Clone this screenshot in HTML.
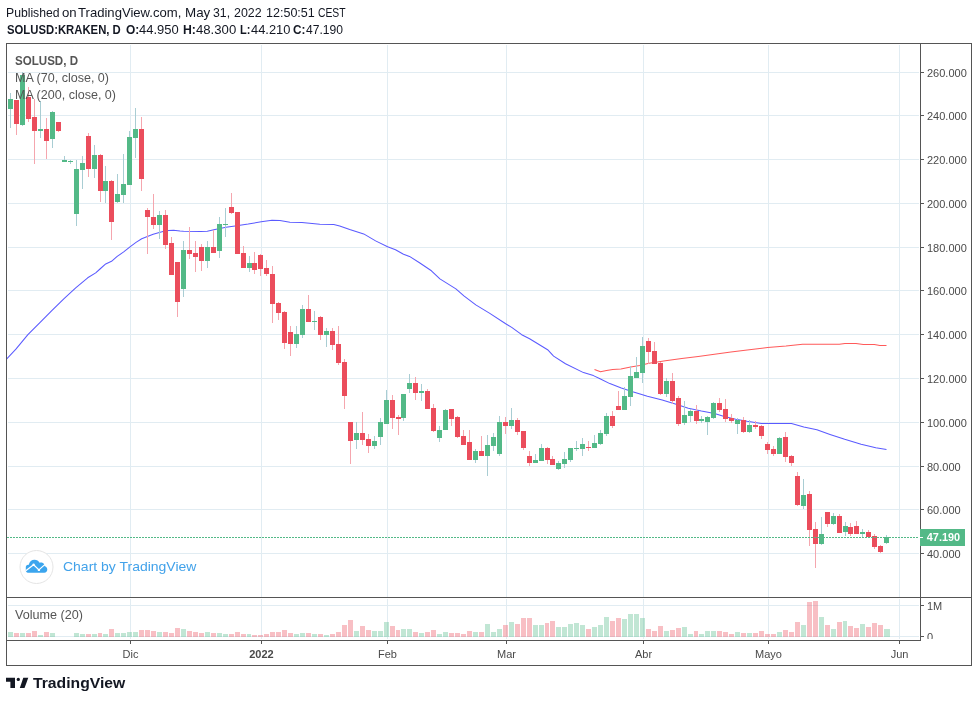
<!DOCTYPE html>
<html><head><meta charset="utf-8"><title>SOLUSD chart</title><style>
html,body{margin:0;padding:0;background:#fff}
body{width:978px;height:702px;position:relative;overflow:hidden;font-family:"Liberation Sans", sans-serif}
#wrap{position:absolute;left:0;top:0;width:978px;height:702px;will-change:transform}
.t{position:absolute;white-space:nowrap;display:inline-block;transform-origin:0 0;font-family:"Liberation Sans", sans-serif}
.ax{font-family:"Liberation Sans", sans-serif;font-size:11px;fill:#4a4a4a}
</style></head><body>
<div id="wrap">
<svg width="978" height="702" viewBox="0 0 978 702" style="position:absolute;left:0;top:0">
<g shape-rendering="crispEdges">
<rect x="8" y="72" width="911" height="1" fill="#e1ecf2"/>
<rect x="8" y="115" width="911" height="1" fill="#e1ecf2"/>
<rect x="8" y="159" width="911" height="1" fill="#e1ecf2"/>
<rect x="8" y="203" width="911" height="1" fill="#e1ecf2"/>
<rect x="8" y="247" width="911" height="1" fill="#e1ecf2"/>
<rect x="8" y="290" width="911" height="1" fill="#e1ecf2"/>
<rect x="8" y="334" width="911" height="1" fill="#e1ecf2"/>
<rect x="8" y="378" width="911" height="1" fill="#e1ecf2"/>
<rect x="8" y="422" width="911" height="1" fill="#e1ecf2"/>
<rect x="8" y="466" width="911" height="1" fill="#e1ecf2"/>
<rect x="8" y="509" width="911" height="1" fill="#e1ecf2"/>
<rect x="8" y="553" width="911" height="1" fill="#e1ecf2"/>
<rect x="130" y="45" width="1" height="552" fill="#e1ecf2"/>
<rect x="261" y="45" width="1" height="552" fill="#e1ecf2"/>
<rect x="387" y="45" width="1" height="552" fill="#e1ecf2"/>
<rect x="506" y="45" width="1" height="552" fill="#e1ecf2"/>
<rect x="643" y="45" width="1" height="552" fill="#e1ecf2"/>
<rect x="768" y="45" width="1" height="552" fill="#e1ecf2"/>
<rect x="899" y="45" width="1" height="552" fill="#e1ecf2"/>
<rect x="8" y="605" width="911" height="1" fill="#e1ecf2"/>
<rect x="8" y="636" width="911" height="1" fill="#e1ecf2"/>
<rect x="130" y="599" width="1" height="40" fill="#e1ecf2"/>
<rect x="261" y="599" width="1" height="40" fill="#e1ecf2"/>
<rect x="387" y="599" width="1" height="40" fill="#e1ecf2"/>
<rect x="506" y="599" width="1" height="40" fill="#e1ecf2"/>
<rect x="643" y="599" width="1" height="40" fill="#e1ecf2"/>
<rect x="768" y="599" width="1" height="40" fill="#e1ecf2"/>
<rect x="899" y="599" width="1" height="40" fill="#e1ecf2"/>
</g>
<path d="M6.5 359.2 L7.0 358.6 L15.9 349.2 L27.9 334.7 L39.9 322.7 L51.8 310.7 L63.8 298.8 L75.7 287.8 L87.7 277.8 L95.7 272.9 L100.0 269.0 L105.7 263.9 L111.5 261.3 L117.2 256.4 L123.7 251.9 L130.3 246.6 L136.0 242.4 L141.7 238.8 L147.4 236.4 L153.2 234.3 L159.3 232.4 L163.0 231.4 L168.7 230.4 L173.6 230.2 L180.0 231.1 L183.5 231.3 L200.7 231.5 L207.3 231.2 L213.8 229.8 L218.7 228.7 L226.0 227.2 L235.1 225.9 L248.2 224.1 L261.2 221.8 L272.0 220.3 L279.9 220.5 L289.9 222.3 L301.9 222.5 L319.8 224.3 L333.8 224.5 L339.7 225.9 L349.7 229.5 L363.7 233.9 L375.6 240.9 L387.6 246.8 L395.5 249.8 L403.5 254.2 L409.5 256.4 L419.5 262.8 L431.4 270.8 L439.9 278.9 L455.9 288.9 L463.9 295.9 L475.8 304.9 L489.8 313.4 L505.7 323.8 L511.7 327.4 L521.7 334.7 L529.6 338.7 L547.6 349.7 L553.6 356.1 L565.5 363.7 L583.5 372.6 L593.4 375.6 L600.0 378.8 L609.8 383.6 L621.3 388.0 L632.7 391.8 L647.4 396.3 L662.2 400.0 L675.3 403.9 L688.3 408.2 L701.4 411.0 L714.5 413.4 L724.3 416.4 L735.8 419.3 L747.2 421.3 L761.3 423.4 L791.5 423.4 L803.8 427.0 L816.9 429.8 L830.0 434.4 L844.7 439.3 L861.1 444.2 L875.8 447.8 L886.5 449.4" fill="none" stroke="#5a5aff" stroke-width="1.05" stroke-linejoin="round"/>
<path d="M594.5 369.4 L600.5 371.7 L606.5 370.6 L612.7 369.6 L620.9 369.0 L630.7 367.0 L639.7 365.4 L649.1 363.2 L665.4 360.8 L681.8 358.6 L698.2 356.5 L714.5 354.2 L730.9 352.1 L747.2 350.0 L767.6 347.6 L786.0 346.1 L802.6 344.3 L839.4 344.3 L844.9 343.4 L856.0 343.4 L863.3 344.5 L874.4 344.5 L879.9 345.4 L886.5 345.4" fill="none" stroke="#ff5a5a" stroke-width="1.05" stroke-linejoin="round"/>
<g shape-rendering="crispEdges">
<rect x="10" y="93" width="1" height="35" fill="#a9cdd3"/>
<rect x="8" y="99" width="5" height="10" fill="#53b987"/>
<rect x="16" y="100" width="1" height="35" fill="#f5a6ae"/>
<rect x="14" y="100" width="5" height="24" fill="#eb4d5c"/>
<rect x="22" y="72" width="1" height="54" fill="#a9cdd3"/>
<rect x="20" y="75" width="5" height="50" fill="#53b987"/>
<rect x="28" y="87" width="1" height="35" fill="#f5a6ae"/>
<rect x="26" y="97" width="5" height="22" fill="#eb4d5c"/>
<rect x="34" y="99" width="1" height="65" fill="#f5a6ae"/>
<rect x="32" y="117" width="5" height="14" fill="#eb4d5c"/>
<rect x="40" y="101" width="1" height="37" fill="#a9cdd3"/>
<rect x="38" y="129" width="5" height="2" fill="#53b987"/>
<rect x="46" y="118" width="1" height="41" fill="#f5a6ae"/>
<rect x="44" y="129" width="5" height="12" fill="#eb4d5c"/>
<rect x="52" y="111" width="1" height="37" fill="#a9cdd3"/>
<rect x="50" y="112" width="5" height="27" fill="#53b987"/>
<rect x="58" y="122" width="1" height="10" fill="#f5a6ae"/>
<rect x="56" y="122" width="5" height="9" fill="#eb4d5c"/>
<rect x="64" y="156" width="1" height="6" fill="#a9cdd3"/>
<rect x="62" y="160" width="5" height="2" fill="#53b987"/>
<rect x="70" y="160" width="1" height="4" fill="#a9cdd3"/>
<rect x="68" y="161" width="5" height="1" fill="#53b987"/>
<rect x="76" y="160" width="1" height="66" fill="#a9cdd3"/>
<rect x="74" y="169" width="5" height="45" fill="#53b987"/>
<rect x="82" y="156" width="1" height="33" fill="#a9cdd3"/>
<rect x="80" y="163" width="5" height="7" fill="#53b987"/>
<rect x="88" y="133" width="1" height="44" fill="#f5a6ae"/>
<rect x="86" y="136" width="5" height="33" fill="#eb4d5c"/>
<rect x="94" y="145" width="1" height="33" fill="#a9cdd3"/>
<rect x="92" y="155" width="5" height="14" fill="#53b987"/>
<rect x="100" y="154" width="1" height="48" fill="#f5a6ae"/>
<rect x="98" y="155" width="5" height="36" fill="#eb4d5c"/>
<rect x="105" y="166" width="1" height="37" fill="#a9cdd3"/>
<rect x="103" y="181" width="5" height="10" fill="#53b987"/>
<rect x="111" y="180" width="1" height="60" fill="#f5a6ae"/>
<rect x="109" y="181" width="5" height="41" fill="#eb4d5c"/>
<rect x="117" y="174" width="1" height="29" fill="#a9cdd3"/>
<rect x="115" y="194" width="5" height="8" fill="#53b987"/>
<rect x="123" y="154" width="1" height="49" fill="#a9cdd3"/>
<rect x="121" y="184" width="5" height="11" fill="#53b987"/>
<rect x="129" y="131" width="1" height="54" fill="#a9cdd3"/>
<rect x="127" y="137" width="5" height="48" fill="#53b987"/>
<rect x="135" y="108" width="1" height="50" fill="#a9cdd3"/>
<rect x="133" y="129" width="5" height="9" fill="#53b987"/>
<rect x="141" y="117" width="1" height="74" fill="#f5a6ae"/>
<rect x="139" y="129" width="5" height="50" fill="#eb4d5c"/>
<rect x="147" y="208" width="1" height="46" fill="#f5a6ae"/>
<rect x="145" y="210" width="5" height="7" fill="#eb4d5c"/>
<rect x="153" y="194" width="1" height="35" fill="#f5a6ae"/>
<rect x="151" y="217" width="5" height="8" fill="#eb4d5c"/>
<rect x="159" y="211" width="1" height="28" fill="#a9cdd3"/>
<rect x="157" y="215" width="5" height="10" fill="#53b987"/>
<rect x="165" y="210" width="1" height="39" fill="#f5a6ae"/>
<rect x="163" y="215" width="5" height="30" fill="#eb4d5c"/>
<rect x="171" y="237" width="1" height="38" fill="#f5a6ae"/>
<rect x="169" y="243" width="5" height="32" fill="#eb4d5c"/>
<rect x="177" y="262" width="1" height="55" fill="#f5a6ae"/>
<rect x="175" y="262" width="5" height="40" fill="#eb4d5c"/>
<rect x="183" y="241" width="1" height="56" fill="#a9cdd3"/>
<rect x="181" y="250" width="5" height="39" fill="#53b987"/>
<rect x="189" y="227" width="1" height="32" fill="#f5a6ae"/>
<rect x="187" y="250" width="5" height="4" fill="#eb4d5c"/>
<rect x="195" y="241" width="1" height="31" fill="#f5a6ae"/>
<rect x="193" y="253" width="5" height="4" fill="#eb4d5c"/>
<rect x="201" y="244" width="1" height="27" fill="#f5a6ae"/>
<rect x="199" y="247" width="5" height="14" fill="#eb4d5c"/>
<rect x="207" y="241" width="1" height="27" fill="#a9cdd3"/>
<rect x="205" y="247" width="5" height="14" fill="#53b987"/>
<rect x="213" y="230" width="1" height="23" fill="#f5a6ae"/>
<rect x="211" y="247" width="5" height="6" fill="#eb4d5c"/>
<rect x="219" y="217" width="1" height="41" fill="#a9cdd3"/>
<rect x="217" y="224" width="5" height="27" fill="#53b987"/>
<rect x="225" y="208" width="1" height="29" fill="#a9cdd3"/>
<rect x="223" y="224" width="5" height="1" fill="#53b987"/>
<rect x="231" y="193" width="1" height="21" fill="#f5a6ae"/>
<rect x="229" y="207" width="5" height="6" fill="#eb4d5c"/>
<rect x="237" y="212" width="1" height="42" fill="#f5a6ae"/>
<rect x="235" y="212" width="5" height="42" fill="#eb4d5c"/>
<rect x="243" y="246" width="1" height="22" fill="#f5a6ae"/>
<rect x="241" y="253" width="5" height="15" fill="#eb4d5c"/>
<rect x="249" y="256" width="1" height="16" fill="#a9cdd3"/>
<rect x="247" y="263" width="5" height="5" fill="#53b987"/>
<rect x="254" y="252" width="1" height="22" fill="#f5a6ae"/>
<rect x="252" y="263" width="5" height="7" fill="#eb4d5c"/>
<rect x="260" y="254" width="1" height="22" fill="#f5a6ae"/>
<rect x="258" y="255" width="5" height="14" fill="#eb4d5c"/>
<rect x="266" y="260" width="1" height="16" fill="#f5a6ae"/>
<rect x="264" y="268" width="5" height="6" fill="#eb4d5c"/>
<rect x="272" y="266" width="1" height="57" fill="#f5a6ae"/>
<rect x="270" y="274" width="5" height="30" fill="#eb4d5c"/>
<rect x="278" y="302" width="1" height="18" fill="#f5a6ae"/>
<rect x="276" y="303" width="5" height="10" fill="#eb4d5c"/>
<rect x="284" y="311" width="1" height="38" fill="#f5a6ae"/>
<rect x="282" y="312" width="5" height="31" fill="#eb4d5c"/>
<rect x="290" y="326" width="1" height="30" fill="#f5a6ae"/>
<rect x="288" y="332" width="5" height="12" fill="#eb4d5c"/>
<rect x="296" y="326" width="1" height="22" fill="#a9cdd3"/>
<rect x="294" y="334" width="5" height="10" fill="#53b987"/>
<rect x="302" y="305" width="1" height="33" fill="#a9cdd3"/>
<rect x="300" y="309" width="5" height="26" fill="#53b987"/>
<rect x="308" y="295" width="1" height="27" fill="#f5a6ae"/>
<rect x="306" y="309" width="5" height="13" fill="#eb4d5c"/>
<rect x="314" y="311" width="1" height="19" fill="#a9cdd3"/>
<rect x="312" y="321" width="5" height="1" fill="#53b987"/>
<rect x="320" y="316" width="1" height="24" fill="#f5a6ae"/>
<rect x="318" y="317" width="5" height="18" fill="#eb4d5c"/>
<rect x="326" y="328" width="1" height="19" fill="#a9cdd3"/>
<rect x="324" y="331" width="5" height="4" fill="#53b987"/>
<rect x="332" y="328" width="1" height="22" fill="#f5a6ae"/>
<rect x="330" y="331" width="5" height="14" fill="#eb4d5c"/>
<rect x="338" y="326" width="1" height="39" fill="#f5a6ae"/>
<rect x="336" y="344" width="5" height="19" fill="#eb4d5c"/>
<rect x="344" y="359" width="1" height="50" fill="#f5a6ae"/>
<rect x="342" y="362" width="5" height="34" fill="#eb4d5c"/>
<rect x="350" y="422" width="1" height="42" fill="#f5a6ae"/>
<rect x="348" y="422" width="5" height="19" fill="#eb4d5c"/>
<rect x="356" y="422" width="1" height="27" fill="#a9cdd3"/>
<rect x="354" y="433" width="5" height="7" fill="#53b987"/>
<rect x="362" y="412" width="1" height="33" fill="#f5a6ae"/>
<rect x="360" y="433" width="5" height="7" fill="#eb4d5c"/>
<rect x="368" y="434" width="1" height="19" fill="#f5a6ae"/>
<rect x="366" y="439" width="5" height="7" fill="#eb4d5c"/>
<rect x="374" y="436" width="1" height="13" fill="#a9cdd3"/>
<rect x="372" y="441" width="5" height="5" fill="#53b987"/>
<rect x="380" y="418" width="1" height="27" fill="#a9cdd3"/>
<rect x="378" y="422" width="5" height="15" fill="#53b987"/>
<rect x="386" y="390" width="1" height="34" fill="#a9cdd3"/>
<rect x="384" y="400" width="5" height="24" fill="#53b987"/>
<rect x="392" y="395" width="1" height="34" fill="#f5a6ae"/>
<rect x="390" y="400" width="5" height="18" fill="#eb4d5c"/>
<rect x="398" y="415" width="1" height="20" fill="#f5a6ae"/>
<rect x="396" y="417" width="5" height="2" fill="#eb4d5c"/>
<rect x="403" y="394" width="1" height="27" fill="#a9cdd3"/>
<rect x="401" y="394" width="5" height="24" fill="#53b987"/>
<rect x="409" y="374" width="1" height="19" fill="#a9cdd3"/>
<rect x="407" y="383" width="5" height="6" fill="#53b987"/>
<rect x="415" y="377" width="1" height="23" fill="#f5a6ae"/>
<rect x="413" y="383" width="5" height="10" fill="#eb4d5c"/>
<rect x="421" y="384" width="1" height="17" fill="#a9cdd3"/>
<rect x="419" y="391" width="5" height="2" fill="#53b987"/>
<rect x="427" y="389" width="1" height="20" fill="#f5a6ae"/>
<rect x="425" y="391" width="5" height="18" fill="#eb4d5c"/>
<rect x="433" y="404" width="1" height="28" fill="#f5a6ae"/>
<rect x="431" y="408" width="5" height="23" fill="#eb4d5c"/>
<rect x="439" y="426" width="1" height="16" fill="#a9cdd3"/>
<rect x="437" y="430" width="5" height="8" fill="#53b987"/>
<rect x="445" y="409" width="1" height="21" fill="#a9cdd3"/>
<rect x="443" y="410" width="5" height="20" fill="#53b987"/>
<rect x="451" y="409" width="1" height="17" fill="#f5a6ae"/>
<rect x="449" y="409" width="5" height="10" fill="#eb4d5c"/>
<rect x="457" y="416" width="1" height="22" fill="#f5a6ae"/>
<rect x="455" y="417" width="5" height="20" fill="#eb4d5c"/>
<rect x="463" y="430" width="1" height="15" fill="#f5a6ae"/>
<rect x="461" y="436" width="5" height="9" fill="#eb4d5c"/>
<rect x="469" y="430" width="1" height="30" fill="#f5a6ae"/>
<rect x="467" y="442" width="5" height="18" fill="#eb4d5c"/>
<rect x="475" y="449" width="1" height="14" fill="#a9cdd3"/>
<rect x="473" y="451" width="5" height="9" fill="#53b987"/>
<rect x="481" y="436" width="1" height="20" fill="#f5a6ae"/>
<rect x="479" y="451" width="5" height="5" fill="#eb4d5c"/>
<rect x="487" y="435" width="1" height="41" fill="#a9cdd3"/>
<rect x="485" y="445" width="5" height="11" fill="#53b987"/>
<rect x="493" y="433" width="1" height="18" fill="#a9cdd3"/>
<rect x="491" y="437" width="5" height="9" fill="#53b987"/>
<rect x="499" y="416" width="1" height="40" fill="#a9cdd3"/>
<rect x="497" y="422" width="5" height="32" fill="#53b987"/>
<rect x="505" y="417" width="1" height="17" fill="#f5a6ae"/>
<rect x="503" y="422" width="5" height="4" fill="#eb4d5c"/>
<rect x="511" y="408" width="1" height="21" fill="#a9cdd3"/>
<rect x="509" y="420" width="5" height="6" fill="#53b987"/>
<rect x="517" y="418" width="1" height="17" fill="#f5a6ae"/>
<rect x="515" y="420" width="5" height="12" fill="#eb4d5c"/>
<rect x="523" y="431" width="1" height="19" fill="#f5a6ae"/>
<rect x="521" y="431" width="5" height="17" fill="#eb4d5c"/>
<rect x="529" y="451" width="1" height="15" fill="#f5a6ae"/>
<rect x="527" y="456" width="5" height="7" fill="#eb4d5c"/>
<rect x="535" y="454" width="1" height="9" fill="#a9cdd3"/>
<rect x="533" y="460" width="5" height="3" fill="#53b987"/>
<rect x="541" y="444" width="1" height="17" fill="#a9cdd3"/>
<rect x="539" y="448" width="5" height="13" fill="#53b987"/>
<rect x="547" y="447" width="1" height="17" fill="#f5a6ae"/>
<rect x="545" y="448" width="5" height="12" fill="#eb4d5c"/>
<rect x="552" y="456" width="1" height="9" fill="#f5a6ae"/>
<rect x="550" y="459" width="5" height="6" fill="#eb4d5c"/>
<rect x="558" y="461" width="1" height="9" fill="#a9cdd3"/>
<rect x="556" y="463" width="5" height="6" fill="#53b987"/>
<rect x="564" y="452" width="1" height="16" fill="#a9cdd3"/>
<rect x="562" y="459" width="5" height="5" fill="#53b987"/>
<rect x="570" y="448" width="1" height="14" fill="#a9cdd3"/>
<rect x="568" y="448" width="5" height="12" fill="#53b987"/>
<rect x="576" y="441" width="1" height="10" fill="#a9cdd3"/>
<rect x="574" y="448" width="5" height="1" fill="#53b987"/>
<rect x="582" y="438" width="1" height="18" fill="#a9cdd3"/>
<rect x="580" y="444" width="5" height="5" fill="#53b987"/>
<rect x="588" y="441" width="1" height="10" fill="#f5a6ae"/>
<rect x="586" y="447" width="5" height="1" fill="#eb4d5c"/>
<rect x="594" y="435" width="1" height="13" fill="#a9cdd3"/>
<rect x="592" y="443" width="5" height="5" fill="#53b987"/>
<rect x="600" y="430" width="1" height="15" fill="#a9cdd3"/>
<rect x="598" y="433" width="5" height="11" fill="#53b987"/>
<rect x="606" y="413" width="1" height="23" fill="#a9cdd3"/>
<rect x="604" y="416" width="5" height="18" fill="#53b987"/>
<rect x="612" y="411" width="1" height="17" fill="#f5a6ae"/>
<rect x="610" y="416" width="5" height="10" fill="#eb4d5c"/>
<rect x="618" y="391" width="1" height="19" fill="#f5a6ae"/>
<rect x="616" y="406" width="5" height="4" fill="#eb4d5c"/>
<rect x="624" y="387" width="1" height="23" fill="#a9cdd3"/>
<rect x="622" y="396" width="5" height="14" fill="#53b987"/>
<rect x="630" y="366" width="1" height="40" fill="#a9cdd3"/>
<rect x="628" y="376" width="5" height="21" fill="#53b987"/>
<rect x="636" y="357" width="1" height="21" fill="#a9cdd3"/>
<rect x="634" y="372" width="5" height="6" fill="#53b987"/>
<rect x="642" y="337" width="1" height="46" fill="#a9cdd3"/>
<rect x="640" y="346" width="5" height="27" fill="#53b987"/>
<rect x="648" y="338" width="1" height="26" fill="#f5a6ae"/>
<rect x="646" y="341" width="5" height="11" fill="#eb4d5c"/>
<rect x="654" y="342" width="1" height="22" fill="#f5a6ae"/>
<rect x="652" y="351" width="5" height="13" fill="#eb4d5c"/>
<rect x="660" y="362" width="1" height="33" fill="#f5a6ae"/>
<rect x="658" y="363" width="5" height="31" fill="#eb4d5c"/>
<rect x="666" y="378" width="1" height="19" fill="#a9cdd3"/>
<rect x="664" y="381" width="5" height="13" fill="#53b987"/>
<rect x="672" y="373" width="1" height="31" fill="#f5a6ae"/>
<rect x="670" y="381" width="5" height="20" fill="#eb4d5c"/>
<rect x="678" y="396" width="1" height="30" fill="#f5a6ae"/>
<rect x="676" y="398" width="5" height="26" fill="#eb4d5c"/>
<rect x="684" y="401" width="1" height="24" fill="#a9cdd3"/>
<rect x="682" y="415" width="5" height="8" fill="#53b987"/>
<rect x="690" y="409" width="1" height="13" fill="#a9cdd3"/>
<rect x="688" y="411" width="5" height="5" fill="#53b987"/>
<rect x="696" y="405" width="1" height="19" fill="#f5a6ae"/>
<rect x="694" y="411" width="5" height="10" fill="#eb4d5c"/>
<rect x="701" y="416" width="1" height="7" fill="#a9cdd3"/>
<rect x="699" y="419" width="5" height="2" fill="#53b987"/>
<rect x="707" y="416" width="1" height="19" fill="#a9cdd3"/>
<rect x="705" y="417" width="5" height="5" fill="#53b987"/>
<rect x="713" y="402" width="1" height="17" fill="#a9cdd3"/>
<rect x="711" y="403" width="5" height="15" fill="#53b987"/>
<rect x="719" y="398" width="1" height="14" fill="#f5a6ae"/>
<rect x="717" y="403" width="5" height="7" fill="#eb4d5c"/>
<rect x="725" y="399" width="1" height="23" fill="#f5a6ae"/>
<rect x="723" y="409" width="5" height="10" fill="#eb4d5c"/>
<rect x="731" y="414" width="1" height="9" fill="#f5a6ae"/>
<rect x="729" y="418" width="5" height="3" fill="#eb4d5c"/>
<rect x="737" y="418" width="1" height="16" fill="#a9cdd3"/>
<rect x="735" y="420" width="5" height="4" fill="#53b987"/>
<rect x="743" y="417" width="1" height="16" fill="#f5a6ae"/>
<rect x="741" y="420" width="5" height="12" fill="#eb4d5c"/>
<rect x="749" y="420" width="1" height="13" fill="#a9cdd3"/>
<rect x="747" y="425" width="5" height="7" fill="#53b987"/>
<rect x="755" y="421" width="1" height="8" fill="#f5a6ae"/>
<rect x="753" y="425" width="5" height="2" fill="#eb4d5c"/>
<rect x="761" y="425" width="1" height="14" fill="#f5a6ae"/>
<rect x="759" y="426" width="5" height="10" fill="#eb4d5c"/>
<rect x="767" y="442" width="1" height="12" fill="#f5a6ae"/>
<rect x="765" y="444" width="5" height="6" fill="#eb4d5c"/>
<rect x="773" y="446" width="1" height="10" fill="#f5a6ae"/>
<rect x="771" y="449" width="5" height="5" fill="#eb4d5c"/>
<rect x="779" y="437" width="1" height="17" fill="#a9cdd3"/>
<rect x="777" y="438" width="5" height="16" fill="#53b987"/>
<rect x="785" y="432" width="1" height="30" fill="#f5a6ae"/>
<rect x="783" y="437" width="5" height="20" fill="#eb4d5c"/>
<rect x="791" y="455" width="1" height="11" fill="#f5a6ae"/>
<rect x="789" y="456" width="5" height="7" fill="#eb4d5c"/>
<rect x="797" y="472" width="1" height="34" fill="#f5a6ae"/>
<rect x="795" y="476" width="5" height="29" fill="#eb4d5c"/>
<rect x="803" y="479" width="1" height="30" fill="#a9cdd3"/>
<rect x="801" y="495" width="5" height="11" fill="#53b987"/>
<rect x="809" y="491" width="1" height="55" fill="#f5a6ae"/>
<rect x="807" y="494" width="5" height="36" fill="#eb4d5c"/>
<rect x="815" y="522" width="1" height="46" fill="#f5a6ae"/>
<rect x="813" y="529" width="5" height="15" fill="#eb4d5c"/>
<rect x="821" y="517" width="1" height="28" fill="#a9cdd3"/>
<rect x="819" y="534" width="5" height="10" fill="#53b987"/>
<rect x="827" y="512" width="1" height="15" fill="#f5a6ae"/>
<rect x="825" y="512" width="5" height="12" fill="#eb4d5c"/>
<rect x="833" y="513" width="1" height="12" fill="#a9cdd3"/>
<rect x="831" y="516" width="5" height="8" fill="#53b987"/>
<rect x="839" y="514" width="1" height="19" fill="#f5a6ae"/>
<rect x="837" y="516" width="5" height="17" fill="#eb4d5c"/>
<rect x="845" y="522" width="1" height="14" fill="#a9cdd3"/>
<rect x="843" y="526" width="5" height="6" fill="#53b987"/>
<rect x="850" y="523" width="1" height="13" fill="#f5a6ae"/>
<rect x="848" y="527" width="5" height="7" fill="#eb4d5c"/>
<rect x="856" y="521" width="1" height="13" fill="#f5a6ae"/>
<rect x="854" y="526" width="5" height="8" fill="#eb4d5c"/>
<rect x="862" y="529" width="1" height="8" fill="#a9cdd3"/>
<rect x="860" y="532" width="5" height="2" fill="#53b987"/>
<rect x="868" y="530" width="1" height="7" fill="#f5a6ae"/>
<rect x="866" y="532" width="5" height="5" fill="#eb4d5c"/>
<rect x="874" y="534" width="1" height="15" fill="#f5a6ae"/>
<rect x="872" y="536" width="5" height="11" fill="#eb4d5c"/>
<rect x="880" y="545" width="1" height="8" fill="#f5a6ae"/>
<rect x="878" y="546" width="5" height="6" fill="#eb4d5c"/>
<rect x="886" y="535" width="1" height="9" fill="#a9cdd3"/>
<rect x="884" y="537" width="5" height="6" fill="#53b987"/>
<rect x="8" y="632" width="5" height="5" fill="#53b987" fill-opacity="0.36"/>
<rect x="14" y="633" width="5" height="4" fill="#eb4d5c" fill-opacity="0.36"/>
<rect x="20" y="633" width="5" height="4" fill="#53b987" fill-opacity="0.36"/>
<rect x="26" y="633" width="5" height="4" fill="#eb4d5c" fill-opacity="0.36"/>
<rect x="32" y="631" width="5" height="6" fill="#eb4d5c" fill-opacity="0.36"/>
<rect x="38" y="635" width="5" height="2" fill="#53b987" fill-opacity="0.36"/>
<rect x="44" y="632" width="5" height="5" fill="#eb4d5c" fill-opacity="0.36"/>
<rect x="50" y="633" width="5" height="4" fill="#53b987" fill-opacity="0.36"/>
<rect x="74" y="633" width="5" height="4" fill="#53b987" fill-opacity="0.36"/>
<rect x="80" y="634" width="5" height="3" fill="#53b987" fill-opacity="0.36"/>
<rect x="86" y="634" width="5" height="3" fill="#eb4d5c" fill-opacity="0.36"/>
<rect x="92" y="634" width="5" height="3" fill="#53b987" fill-opacity="0.36"/>
<rect x="98" y="633" width="4" height="4" fill="#eb4d5c" fill-opacity="0.36"/>
<rect x="103" y="634" width="5" height="3" fill="#53b987" fill-opacity="0.36"/>
<rect x="109" y="629" width="5" height="8" fill="#eb4d5c" fill-opacity="0.36"/>
<rect x="115" y="633" width="5" height="4" fill="#53b987" fill-opacity="0.36"/>
<rect x="121" y="633" width="5" height="4" fill="#53b987" fill-opacity="0.36"/>
<rect x="127" y="632" width="5" height="5" fill="#53b987" fill-opacity="0.36"/>
<rect x="133" y="632" width="5" height="5" fill="#53b987" fill-opacity="0.36"/>
<rect x="139" y="630" width="5" height="7" fill="#eb4d5c" fill-opacity="0.36"/>
<rect x="145" y="630" width="5" height="7" fill="#eb4d5c" fill-opacity="0.36"/>
<rect x="151" y="631" width="5" height="6" fill="#eb4d5c" fill-opacity="0.36"/>
<rect x="157" y="632" width="5" height="5" fill="#53b987" fill-opacity="0.36"/>
<rect x="163" y="632" width="5" height="5" fill="#eb4d5c" fill-opacity="0.36"/>
<rect x="169" y="633" width="5" height="4" fill="#eb4d5c" fill-opacity="0.36"/>
<rect x="175" y="628" width="5" height="9" fill="#eb4d5c" fill-opacity="0.36"/>
<rect x="181" y="629" width="5" height="8" fill="#53b987" fill-opacity="0.36"/>
<rect x="187" y="631" width="5" height="6" fill="#eb4d5c" fill-opacity="0.36"/>
<rect x="193" y="632" width="5" height="5" fill="#eb4d5c" fill-opacity="0.36"/>
<rect x="199" y="633" width="5" height="4" fill="#eb4d5c" fill-opacity="0.36"/>
<rect x="205" y="632" width="5" height="5" fill="#53b987" fill-opacity="0.36"/>
<rect x="211" y="633" width="5" height="4" fill="#eb4d5c" fill-opacity="0.36"/>
<rect x="217" y="633" width="5" height="4" fill="#53b987" fill-opacity="0.36"/>
<rect x="223" y="634" width="5" height="3" fill="#53b987" fill-opacity="0.36"/>
<rect x="229" y="634" width="5" height="3" fill="#eb4d5c" fill-opacity="0.36"/>
<rect x="235" y="632" width="5" height="5" fill="#eb4d5c" fill-opacity="0.36"/>
<rect x="241" y="634" width="5" height="3" fill="#eb4d5c" fill-opacity="0.36"/>
<rect x="247" y="634" width="4" height="3" fill="#53b987" fill-opacity="0.36"/>
<rect x="252" y="635" width="5" height="2" fill="#eb4d5c" fill-opacity="0.36"/>
<rect x="258" y="635" width="5" height="2" fill="#eb4d5c" fill-opacity="0.36"/>
<rect x="264" y="634" width="5" height="3" fill="#eb4d5c" fill-opacity="0.36"/>
<rect x="270" y="632" width="5" height="5" fill="#eb4d5c" fill-opacity="0.36"/>
<rect x="276" y="632" width="5" height="5" fill="#eb4d5c" fill-opacity="0.36"/>
<rect x="282" y="630" width="5" height="7" fill="#eb4d5c" fill-opacity="0.36"/>
<rect x="288" y="633" width="5" height="4" fill="#eb4d5c" fill-opacity="0.36"/>
<rect x="294" y="634" width="5" height="3" fill="#53b987" fill-opacity="0.36"/>
<rect x="300" y="633" width="5" height="4" fill="#53b987" fill-opacity="0.36"/>
<rect x="306" y="633" width="5" height="4" fill="#eb4d5c" fill-opacity="0.36"/>
<rect x="312" y="634" width="5" height="3" fill="#53b987" fill-opacity="0.36"/>
<rect x="318" y="634" width="5" height="3" fill="#eb4d5c" fill-opacity="0.36"/>
<rect x="324" y="635" width="5" height="2" fill="#53b987" fill-opacity="0.36"/>
<rect x="330" y="634" width="5" height="3" fill="#eb4d5c" fill-opacity="0.36"/>
<rect x="336" y="632" width="5" height="5" fill="#eb4d5c" fill-opacity="0.36"/>
<rect x="342" y="625" width="5" height="12" fill="#eb4d5c" fill-opacity="0.36"/>
<rect x="348" y="620" width="5" height="17" fill="#eb4d5c" fill-opacity="0.36"/>
<rect x="354" y="631" width="5" height="6" fill="#53b987" fill-opacity="0.36"/>
<rect x="360" y="626" width="5" height="11" fill="#eb4d5c" fill-opacity="0.36"/>
<rect x="366" y="630" width="5" height="7" fill="#eb4d5c" fill-opacity="0.36"/>
<rect x="372" y="631" width="5" height="6" fill="#53b987" fill-opacity="0.36"/>
<rect x="378" y="631" width="5" height="6" fill="#53b987" fill-opacity="0.36"/>
<rect x="384" y="622" width="5" height="15" fill="#53b987" fill-opacity="0.36"/>
<rect x="390" y="626" width="5" height="11" fill="#eb4d5c" fill-opacity="0.36"/>
<rect x="396" y="630" width="4" height="7" fill="#eb4d5c" fill-opacity="0.36"/>
<rect x="401" y="629" width="5" height="8" fill="#53b987" fill-opacity="0.36"/>
<rect x="407" y="629" width="5" height="8" fill="#53b987" fill-opacity="0.36"/>
<rect x="413" y="632" width="5" height="5" fill="#eb4d5c" fill-opacity="0.36"/>
<rect x="419" y="633" width="5" height="4" fill="#53b987" fill-opacity="0.36"/>
<rect x="425" y="632" width="5" height="5" fill="#eb4d5c" fill-opacity="0.36"/>
<rect x="431" y="630" width="5" height="7" fill="#eb4d5c" fill-opacity="0.36"/>
<rect x="437" y="634" width="5" height="3" fill="#53b987" fill-opacity="0.36"/>
<rect x="443" y="632" width="5" height="5" fill="#53b987" fill-opacity="0.36"/>
<rect x="449" y="633" width="5" height="4" fill="#eb4d5c" fill-opacity="0.36"/>
<rect x="455" y="633" width="5" height="4" fill="#eb4d5c" fill-opacity="0.36"/>
<rect x="461" y="634" width="5" height="3" fill="#eb4d5c" fill-opacity="0.36"/>
<rect x="467" y="631" width="5" height="6" fill="#eb4d5c" fill-opacity="0.36"/>
<rect x="473" y="632" width="5" height="5" fill="#53b987" fill-opacity="0.36"/>
<rect x="479" y="632" width="5" height="5" fill="#eb4d5c" fill-opacity="0.36"/>
<rect x="485" y="624" width="5" height="13" fill="#53b987" fill-opacity="0.36"/>
<rect x="491" y="632" width="5" height="5" fill="#53b987" fill-opacity="0.36"/>
<rect x="497" y="629" width="5" height="8" fill="#53b987" fill-opacity="0.36"/>
<rect x="503" y="625" width="5" height="12" fill="#eb4d5c" fill-opacity="0.36"/>
<rect x="509" y="622" width="5" height="15" fill="#53b987" fill-opacity="0.36"/>
<rect x="515" y="624" width="5" height="13" fill="#eb4d5c" fill-opacity="0.36"/>
<rect x="521" y="618" width="5" height="19" fill="#eb4d5c" fill-opacity="0.36"/>
<rect x="527" y="618" width="5" height="19" fill="#eb4d5c" fill-opacity="0.36"/>
<rect x="533" y="625" width="5" height="12" fill="#53b987" fill-opacity="0.36"/>
<rect x="539" y="625" width="5" height="12" fill="#53b987" fill-opacity="0.36"/>
<rect x="545" y="623" width="4" height="14" fill="#eb4d5c" fill-opacity="0.36"/>
<rect x="550" y="621" width="5" height="16" fill="#eb4d5c" fill-opacity="0.36"/>
<rect x="556" y="627" width="5" height="10" fill="#53b987" fill-opacity="0.36"/>
<rect x="562" y="627" width="5" height="10" fill="#53b987" fill-opacity="0.36"/>
<rect x="568" y="624" width="5" height="13" fill="#53b987" fill-opacity="0.36"/>
<rect x="574" y="623" width="5" height="14" fill="#53b987" fill-opacity="0.36"/>
<rect x="580" y="625" width="5" height="12" fill="#53b987" fill-opacity="0.36"/>
<rect x="586" y="629" width="5" height="8" fill="#eb4d5c" fill-opacity="0.36"/>
<rect x="592" y="627" width="5" height="10" fill="#53b987" fill-opacity="0.36"/>
<rect x="598" y="625" width="5" height="12" fill="#53b987" fill-opacity="0.36"/>
<rect x="604" y="617" width="5" height="20" fill="#53b987" fill-opacity="0.36"/>
<rect x="610" y="621" width="5" height="16" fill="#eb4d5c" fill-opacity="0.36"/>
<rect x="616" y="618" width="5" height="19" fill="#eb4d5c" fill-opacity="0.36"/>
<rect x="622" y="619" width="5" height="18" fill="#53b987" fill-opacity="0.36"/>
<rect x="628" y="614" width="5" height="23" fill="#53b987" fill-opacity="0.36"/>
<rect x="634" y="614" width="5" height="23" fill="#53b987" fill-opacity="0.36"/>
<rect x="640" y="618" width="5" height="19" fill="#53b987" fill-opacity="0.36"/>
<rect x="646" y="629" width="5" height="8" fill="#eb4d5c" fill-opacity="0.36"/>
<rect x="652" y="631" width="5" height="6" fill="#eb4d5c" fill-opacity="0.36"/>
<rect x="658" y="626" width="5" height="11" fill="#eb4d5c" fill-opacity="0.36"/>
<rect x="664" y="631" width="5" height="6" fill="#53b987" fill-opacity="0.36"/>
<rect x="670" y="630" width="5" height="7" fill="#eb4d5c" fill-opacity="0.36"/>
<rect x="676" y="628" width="5" height="9" fill="#eb4d5c" fill-opacity="0.36"/>
<rect x="682" y="627" width="5" height="10" fill="#53b987" fill-opacity="0.36"/>
<rect x="688" y="634" width="5" height="3" fill="#53b987" fill-opacity="0.36"/>
<rect x="694" y="631" width="4" height="6" fill="#eb4d5c" fill-opacity="0.36"/>
<rect x="699" y="634" width="5" height="3" fill="#53b987" fill-opacity="0.36"/>
<rect x="705" y="631" width="5" height="6" fill="#53b987" fill-opacity="0.36"/>
<rect x="711" y="631" width="5" height="6" fill="#53b987" fill-opacity="0.36"/>
<rect x="717" y="631" width="5" height="6" fill="#eb4d5c" fill-opacity="0.36"/>
<rect x="723" y="632" width="5" height="5" fill="#eb4d5c" fill-opacity="0.36"/>
<rect x="729" y="634" width="5" height="3" fill="#eb4d5c" fill-opacity="0.36"/>
<rect x="735" y="632" width="5" height="5" fill="#53b987" fill-opacity="0.36"/>
<rect x="741" y="633" width="5" height="4" fill="#eb4d5c" fill-opacity="0.36"/>
<rect x="747" y="633" width="5" height="4" fill="#53b987" fill-opacity="0.36"/>
<rect x="753" y="633" width="5" height="4" fill="#eb4d5c" fill-opacity="0.36"/>
<rect x="759" y="631" width="5" height="6" fill="#eb4d5c" fill-opacity="0.36"/>
<rect x="765" y="634" width="5" height="3" fill="#eb4d5c" fill-opacity="0.36"/>
<rect x="771" y="634" width="5" height="3" fill="#eb4d5c" fill-opacity="0.36"/>
<rect x="777" y="632" width="5" height="5" fill="#53b987" fill-opacity="0.36"/>
<rect x="783" y="630" width="5" height="7" fill="#eb4d5c" fill-opacity="0.36"/>
<rect x="789" y="632" width="5" height="5" fill="#eb4d5c" fill-opacity="0.36"/>
<rect x="795" y="622" width="5" height="15" fill="#eb4d5c" fill-opacity="0.36"/>
<rect x="801" y="625" width="5" height="12" fill="#53b987" fill-opacity="0.36"/>
<rect x="807" y="602" width="5" height="35" fill="#eb4d5c" fill-opacity="0.36"/>
<rect x="813" y="601" width="5" height="36" fill="#eb4d5c" fill-opacity="0.36"/>
<rect x="819" y="617" width="5" height="20" fill="#53b987" fill-opacity="0.36"/>
<rect x="825" y="625" width="5" height="12" fill="#eb4d5c" fill-opacity="0.36"/>
<rect x="831" y="629" width="5" height="8" fill="#53b987" fill-opacity="0.36"/>
<rect x="837" y="622" width="5" height="15" fill="#eb4d5c" fill-opacity="0.36"/>
<rect x="843" y="621" width="4" height="16" fill="#53b987" fill-opacity="0.36"/>
<rect x="848" y="626" width="5" height="11" fill="#eb4d5c" fill-opacity="0.36"/>
<rect x="854" y="628" width="5" height="9" fill="#eb4d5c" fill-opacity="0.36"/>
<rect x="860" y="624" width="5" height="13" fill="#53b987" fill-opacity="0.36"/>
<rect x="866" y="627" width="5" height="10" fill="#eb4d5c" fill-opacity="0.36"/>
<rect x="872" y="623" width="5" height="14" fill="#eb4d5c" fill-opacity="0.36"/>
<rect x="878" y="625" width="5" height="12" fill="#eb4d5c" fill-opacity="0.36"/>
<rect x="884" y="629" width="6" height="8" fill="#53b987" fill-opacity="0.36"/>
<line x1="7" y1="537.5" x2="919" y2="537.5" stroke="#53b987" stroke-width="1" stroke-dasharray="2 1"/>
<rect x="6" y="43" width="966" height="1" fill="#555555"/>
<rect x="6" y="665" width="966" height="1" fill="#555555"/>
<rect x="6" y="43" width="1" height="623" fill="#555555"/>
<rect x="971" y="43" width="1" height="623" fill="#555555"/>
<rect x="920" y="43" width="1" height="598" fill="#555555"/>
<rect x="6" y="597" width="966" height="1" fill="#555555"/>
<rect x="6" y="640" width="915" height="1" fill="#555555"/>
<rect x="921" y="72" width="3" height="1" fill="#555555"/>
<rect x="921" y="115" width="3" height="1" fill="#555555"/>
<rect x="921" y="159" width="3" height="1" fill="#555555"/>
<rect x="921" y="203" width="3" height="1" fill="#555555"/>
<rect x="921" y="247" width="3" height="1" fill="#555555"/>
<rect x="921" y="290" width="3" height="1" fill="#555555"/>
<rect x="921" y="334" width="3" height="1" fill="#555555"/>
<rect x="921" y="378" width="3" height="1" fill="#555555"/>
<rect x="921" y="422" width="3" height="1" fill="#555555"/>
<rect x="921" y="466" width="3" height="1" fill="#555555"/>
<rect x="921" y="509" width="3" height="1" fill="#555555"/>
<rect x="921" y="553" width="3" height="1" fill="#555555"/>
<rect x="921" y="605" width="3" height="1" fill="#555555"/>
<rect x="921" y="636" width="3" height="1" fill="#555555"/>
<rect x="130" y="641" width="1" height="3" fill="#555555"/>
<rect x="261" y="641" width="1" height="3" fill="#555555"/>
<rect x="387" y="641" width="1" height="3" fill="#555555"/>
<rect x="506" y="641" width="1" height="3" fill="#555555"/>
<rect x="643" y="641" width="1" height="3" fill="#555555"/>
<rect x="768" y="641" width="1" height="3" fill="#555555"/>
<rect x="899" y="641" width="1" height="3" fill="#555555"/>
<rect x="920" y="529" width="45" height="17" fill="#53b987"/>
<rect x="920" y="537" width="3" height="1" fill="#ffffff"/>
</g>
<text x="927" y="76.5" class="ax">260.000</text>
<text x="927" y="119.5" class="ax">240.000</text>
<text x="927" y="163.5" class="ax">220.000</text>
<text x="927" y="207.5" class="ax">200.000</text>
<text x="927" y="251.5" class="ax">180.000</text>
<text x="927" y="294.5" class="ax">160.000</text>
<text x="927" y="338.5" class="ax">140.000</text>
<text x="927" y="382.5" class="ax">120.000</text>
<text x="927" y="426.5" class="ax">100.000</text>
<text x="927" y="470.5" class="ax">80.000</text>
<text x="927" y="513.5" class="ax">60.000</text>
<text x="927" y="557.5" class="ax">40.000</text>
<text x="926.8" y="541.3" class="ax" style="fill:#fff;font-weight:bold" textLength="33.3" lengthAdjust="spacingAndGlyphs">47.190</text>
<text x="927" y="609.8" class="ax">1M</text>
<clipPath id="cp"><rect x="921" y="598" width="50" height="41"/></clipPath>
<text x="927" y="641" class="ax" clip-path="url(#cp)">0</text>
<text x="130.5" y="658" class="ax" text-anchor="middle">Dic</text>
<text x="261.5" y="658" class="ax" text-anchor="middle" style="font-weight:bold">2022</text>
<text x="387.5" y="658" class="ax" text-anchor="middle">Feb</text>
<text x="506.5" y="658" class="ax" text-anchor="middle">Mar</text>
<text x="643.5" y="658" class="ax" text-anchor="middle">Abr</text>
<text x="768.5" y="658" class="ax" text-anchor="middle">Mayo</text>
<text x="899.5" y="658" class="ax" text-anchor="middle">Jun</text>
<circle cx="36.5" cy="567" r="16.5" fill="#fff" stroke="#e4e4e4" stroke-width="1"/>
<g transform="translate(25.8,559.7)"><path d="M2.2 13 C0.6 13 0 11.8 0 10.4 L0 7.6 C0 5.9 1.2 4.9 2.9 5.2 C3.6 1.9 5.9 0 8.7 0 C11 0 12.8 1.2 13.8 3.1 C14.6 2.7 15.6 2.6 16.6 3 C18 3.6 18.7 4.9 18.6 6.3 C20.3 6.7 21.5 8.1 21.5 9.9 C21.5 11.8 20.3 13 18.4 13 Z" fill="#3ba5ee"/><path d="M0.6 10.6 L7.8 5 L13.1 10.2 L18.7 5.2" fill="none" stroke="#fff" stroke-width="1.25" stroke-linecap="round" stroke-linejoin="round"/><circle cx="7.8" cy="5" r="1.2" fill="#fff"/><circle cx="13.1" cy="10.2" r="1.2" fill="#fff"/></g>
<g fill="#131722"><path d="M6 677.7 H15 V688 H10.4 V681.7 H6 Z"/><circle cx="18.3" cy="679.4" r="1.65"/><path d="M23.3 677.7 H28.3 L24.5 688 H19.8 Z"/></g>
</svg>
<span class=t style="left:6.2px;top:4.22px;font-size:13.5px;line-height:17px;font-weight:normal;color:#131722;transform:scaleX(0.9031);">Published</span>
<span class=t style="left:61.9px;top:4.22px;font-size:13.5px;line-height:17px;font-weight:normal;color:#131722;transform:scaleX(0.9780);">on</span>
<span class=t style="left:78.0px;top:4.22px;font-size:13.5px;line-height:17px;font-weight:normal;color:#131722;transform:scaleX(0.9703);">TradingView.com,</span>
<span class=t style="left:185.1px;top:4.22px;font-size:13.5px;line-height:17px;font-weight:normal;color:#131722;transform:scaleX(0.9915);">May</span>
<span class=t style="left:213.1px;top:4.22px;font-size:13.5px;line-height:17px;font-weight:normal;color:#131722;transform:scaleX(0.9105);">31,</span>
<span class=t style="left:233.9px;top:4.22px;font-size:13.5px;line-height:17px;font-weight:normal;color:#131722;transform:scaleX(0.9186);">2022</span>
<span class=t style="left:265.6px;top:4.22px;font-size:13.5px;line-height:17px;font-weight:normal;color:#131722;transform:scaleX(0.9284);">12:50:51</span>
<span class=t style="left:317.8px;top:4.22px;font-size:13.5px;line-height:17px;font-weight:normal;color:#131722;transform:scaleX(0.7663);">CEST</span>
<span class=t style="left:6.8px;top:22.00px;font-size:13px;line-height:16px;font-weight:bold;color:#131722;transform:scaleX(0.8705);">SOLUSD:KRAKEN, D</span>
<span class=t style="left:125.9px;top:22.00px;font-size:13px;line-height:16px;font-weight:bold;color:#131722;transform:scaleX(0.9202);">O:</span>
<span class=t style="left:139.3px;top:22.00px;font-size:13px;line-height:16px;font-weight:normal;color:#131722;transform:scaleX(0.9983);">44.950</span>
<span class=t style="left:182.8px;top:22.00px;font-size:13px;line-height:16px;font-weight:bold;color:#131722;transform:scaleX(0.9403);">H:</span>
<span class=t style="left:195.8px;top:22.00px;font-size:13px;line-height:16px;font-weight:normal;color:#131722;transform:scaleX(1.0109);">48.300</span>
<span class=t style="left:240.0px;top:22.00px;font-size:13px;line-height:16px;font-weight:bold;color:#131722;transform:scaleX(0.8468);">L:</span>
<span class=t style="left:250.5px;top:22.00px;font-size:13px;line-height:16px;font-weight:normal;color:#131722;transform:scaleX(0.9908);">44.210</span>
<span class=t style="left:293.2px;top:22.00px;font-size:13px;line-height:16px;font-weight:bold;color:#131722;transform:scaleX(0.9039);">C:</span>
<span class=t style="left:305.7px;top:22.00px;font-size:13px;line-height:16px;font-weight:normal;color:#131722;transform:scaleX(0.9305);">47.190</span>
<span class=t style="left:15.0px;top:53.74px;font-size:12px;line-height:15px;font-weight:bold;color:#555555;transform:scaleX(0.9641);">SOLUSD, D</span>
<span class=t style="left:15.3px;top:71.04px;font-size:12px;line-height:15px;font-weight:normal;color:#555555;transform:scaleX(1.0439);">MA (70, close, 0)</span>
<span class=t style="left:15.3px;top:87.84px;font-size:12px;line-height:15px;font-weight:normal;color:#555555;transform:scaleX(1.0443);">MA (200, close, 0)</span>
<span class=t style="left:15.0px;top:606.70px;font-size:13px;line-height:16px;font-weight:normal;color:#555555;transform:scaleX(0.9701);">Volume (20)</span>
<span class=t style="left:63.1px;top:558.09px;font-size:13.6px;line-height:17px;font-weight:normal;color:#42a2ea;transform:scaleX(1.0284);">Chart by TradingView</span>
<span class=t style="left:32.7px;top:674.28px;font-size:14.5px;line-height:18px;font-weight:bold;color:#131722;transform:scaleX(1.0839);">TradingView</span>
</div>
</body></html>
